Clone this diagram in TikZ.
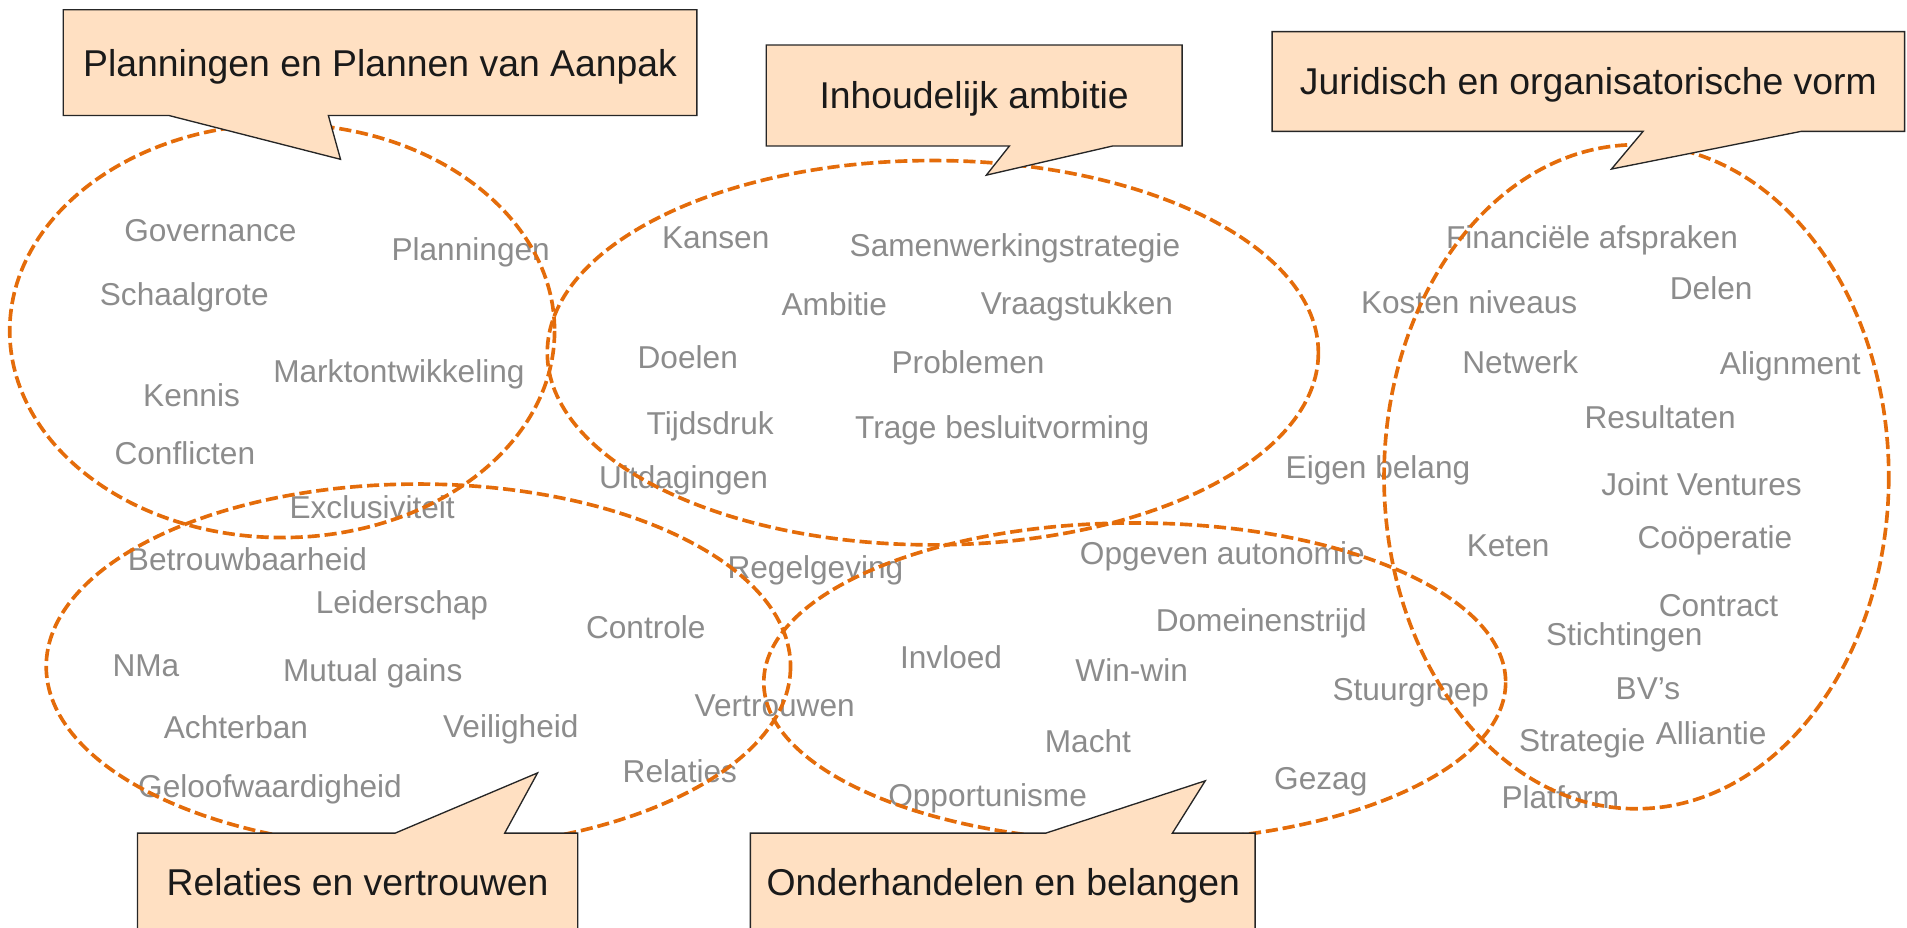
\documentclass[tikz,border=0pt]{standalone}
\usepackage{fontspec}
\setmainfont{Liberation Sans}

\definecolor{zoneorange}{HTML}{E46C0A}
\definecolor{bubblefill}{HTML}{FFE0C2}
\definecolor{wordgray}{HTML}{8C8C8C}
\definecolor{titleblack}{HTML}{1A1A1A}

\tikzset{
  word/.style={font=\fontsize{26}{30}\selectfont, text=wordgray, inner sep=0pt, text height=18.6pt, text depth=0pt},
  title/.style={font=\fontsize{30.7}{36}\selectfont, text=titleblack, inner sep=0pt, text height=22pt, text depth=0pt},
  zone/.style={draw=zoneorange, line width=3pt, dash pattern=on 10pt off 4pt},
  bubble/.style={draw=black!85, fill=bubblefill, line width=1.1pt, line join=miter},
}

\begin{document}
\begin{tikzpicture}[x=1pt, y=-1pt]
            \useasboundingbox (0,0) rectangle (1568,763);

            % planningen
            \node [word] (governance) at (173,189) {Governance};
            \node [word] (planningen) at (387,205) {Planningen};
            \node [word] (schaalgrote) at (151.5,241.5) {Schaalgrote};
            \node [word] (markt) at (328,305) {Marktontwikkeling};
            \node [word] (kennis) at (157.5,325) {Kennis};
            \node [word] (conflicten) at (152,372.5) {Conflicten};

            % ambitie
            \node [word] (kansen) at (588.5,195) {Kansen};
            \node [word] (samenwerking) at (834.5,202) {Samenwerkingstrategie};
            \node [word] (ambitie) at (686,250) {Ambitie};
            \node [word] (vraagstukken) at (885.5,249) {Vraagstukken};
            \node [word] (doelen) at (565.5,294) {Doelen};
            \node [word] (problemen) at (796,298) {Problemen};
            \node [word] (tijdsdruk) at (584,348) {Tijdsdruk};
            \node [word] (besluit) at (824,351.5) {Trage besluitvorming};
            \node [word] (uitdagingen) at (562,392) {Uitdagingen};

            % vorm
            \node [word] (financieel) at (1309,195) {Financiële afspraken};
            \node [word] (kosten) at (1208,248.7) {Kosten niveaus};
            \node [word] (delen) at (1407,237) {Delen};
            \node [word] (netwerk) at (1250,298) {Netwerk};
            \node [word] (alignment) at (1472,298.5) {Alignment};
            \node [word] (resultaten) at (1365,343) {Resultaten};
            \node [word] (eigen) at (1133,384) {Eigen belang};
            \node [word] (joint) at (1399,398) {Joint Ventures};
            \node [word] (keten) at (1240,448) {Keten};
            \node [word] (cooperatie) at (1410,442) {Coöperatie};
            \node [word] (contract) at (1413,498) {Contract};
            \node [word] (stichtingen) at (1335.5,521.5) {Stichtingen};
            \node [word] (bvs) at (1355,565.5) {BV’s};
            \node [word] (strategie) at (1301,609) {Strategie};
            \node [word] (alliantie) at (1407,603) {Alliantie};
            \node [word] (platform) at (1283,655.5) {Platform};

            % relaties
            \node [word] (exclusiviteit) at (306,417) {Exclusiviteit};
            \node [word] (betrouwbaar) at (203.5,460) {Betrouwbaarheid};
            \node [word] (leiderschap) at (330.5,495) {Leiderschap};
            \node [word] (controle) at (531,516) {Controle};
            \node [word] (nma) at (120,547) {NMa};
            \node [word] (mutual) at (306.5,551) {Mutual gains};
            \node [word] (achterban) at (194,597.5) {Achterban};
            \node [word] (veiligheid) at (420,597) {Veiligheid};
            \node [word] (vertrouwen) at (637,579.5) {Vertrouwen};
            \node [word] (relaties) at (559,634) {Relaties};
            \node [word] (geloof) at (222,646.5) {Geloofwaardigheid};

            % belangen
            \node [word] (regelgeving) at (670.5,466) {Regelgeving};
            \node [word] (autonomie) at (1005,454.5) {Opgeven autonomie};
            \node [word] (domein) at (1037,510) {Domeinenstrijd};
            \node [word] (invloed) at (782,540) {Invloed};
            \node [word] (winwin) at (930.5,551) {Win-win};
            \node [word] (stuurgroep) at (1160,567) {Stuurgroep};
            \node [word] (macht) at (894.5,609.5) {Macht};
            \node [word] (gezag) at (1086,640) {Gezag};
            \node [word] (opportunisme) at (812,653.5) {Opportunisme};

            \draw [zone] (232,272) ellipse [x radius=224, y radius=170];
            \draw [zone] (767,290) ellipse [x radius=317, y radius=158];
            \draw [zone] (1345.5,392) ellipse [x radius=207.5, y radius=273];
            \draw [zone] (344,548) ellipse [x radius=306, y radius=150];
            \draw [zone] (933,561) ellipse [x radius=305, y radius=131];

            \draw [bubble] (52,8) -- (573,8) -- (573,95) -- (270,95) -- (280,131) -- (139,95) -- (52,95) -- cycle;
            \node [title] (plannen) at (312.5,51.5) {Planningen en Plannen van Aanpak};

            \draw [bubble] (630,37) -- (972,37) -- (972,120) -- (915,120) -- (811,144) -- (830,120) -- (630,120) -- cycle;
            \node [title] (inhoud) at (801,78.5) {Inhoudelijk ambitie};

            \draw [bubble] (1046,26) -- (1566,26) -- (1566,108) -- (1481,108) -- (1325,139) -- (1351,108) -- (1046,108) -- cycle;
            \node [title] (juridisch) at (1306,67) {Juridisch en organisatorische vorm};

            \draw [bubble] (113,685) -- (325,685) -- (442,635.5) -- (415,685) -- (475,685) -- (475,768) -- (113,768) -- cycle;
            \node [title] (vertrouw) at (294,725) {Relaties en vertrouwen};

            \draw [bubble] (617,685) -- (860,685) -- (991,642) -- (964,685) -- (1032,685) -- (1032,768) -- (617,768) -- cycle;
            \node [title] (onderhandel) at (825,725) {Onderhandelen en belangen};
        \end{tikzpicture}
\end{document}
